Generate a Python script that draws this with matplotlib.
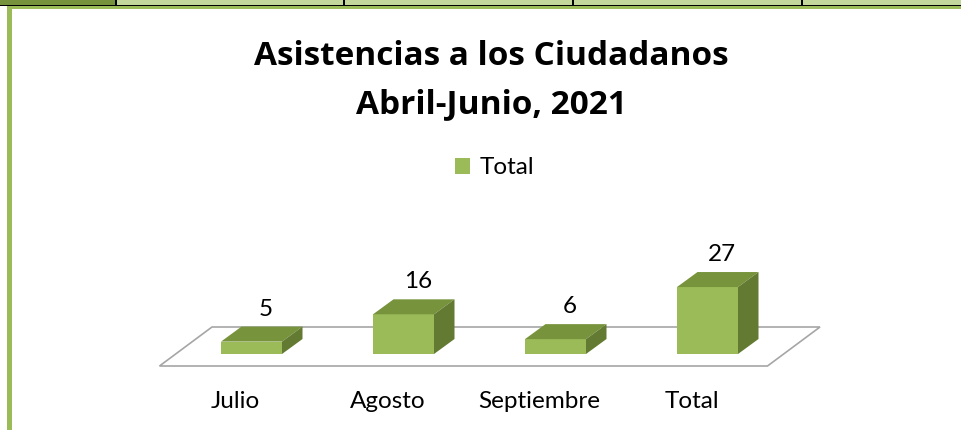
import matplotlib
matplotlib.use("Agg")
import matplotlib.pyplot as plt
from matplotlib.patches import Polygon, Rectangle, Patch
from matplotlib.transforms import Affine2D

# data
months = ["Julio", "Agosto", "Septiembre", "Total"]
totals = [5, 16, 6, 27]
series_name = "Total"
title_lines = ["Asistencias a los Ciudadanos", "Abril-Junio, 2021"]

plt.rcParams['font.family'] = ['Lato', 'DejaVu Sans']

W, H = 961, 430
fig = plt.figure(figsize=(W / 100, H / 100), dpi=100)
fig.patch.set_facecolor("white")

# pixel coords (y down) -> figure coords, for the page decorations
px = Affine2D().scale(1, -1).translate(0, H).scale(1 / W, 1 / H) + fig.transFigure

# table strip at the top of the page
fig.add_artist(Rectangle((0, 0), W, 5, transform=px, color="#c3d69b", lw=0))
fig.add_artist(Rectangle((0, 0), 115, 5, transform=px, color="#76923c", lw=0))
for xd in [115, 343, 572, 801]:
    fig.add_artist(Rectangle((xd, 0), 2, 5, transform=px, color="black", lw=0))
fig.add_artist(Rectangle((0, 5), W, 1, transform=px, color="black", lw=0))
# chart frame (green top and left edge)
fig.add_artist(Rectangle((7, 6), W - 7, 3, transform=px, color="#9bbb59", lw=0))
fig.add_artist(Rectangle((7, 6), 5, H - 6, transform=px, color="#9bbb59", lw=0))

# plot area: x in categories, y in values
ymax = 30
ax = fig.add_axes([175.5 / W, 76 / H, 608 / W, ymax * 2.48 / H])
ax.set_xlim(-0.5, len(months) - 0.5)
ax.set_ylim(0, ymax)
ax.axis("off")

# pixel -> data unit factors, used for the fake 3d depth
ux = len(months) / 608
uy = ymax / (ymax * 2.48)

bar_w = 61 / 152
bdx, bdy = 20.5 * ux, 15 * uy        # bar depth
fdx, fdy = 16 * ux, 12 * uy          # floor margin in front of/behind the bars

# floor
x0, x1 = -0.5, len(months) - 0.5
floor = [(x0 - fdx, -fdy), (x1 - fdx, -fdy),
         (x1 + bdx + fdx, bdy + fdy), (x0 + bdx + fdx, bdy + fdy)]
ax.add_patch(Polygon(floor, closed=True, facecolor="white", edgecolor="#a6a6a6",
                     lw=1.2, clip_on=False, zorder=1))

front_c, top_c, side_c = "#9bbb59", "#77933c", "#627a31"
for i, v in enumerate(totals):
    l, r = i - bar_w / 2, i + bar_w / 2
    ax.add_patch(Polygon([(l, 0), (r, 0), (r, v), (l, v)], closed=True,
                         facecolor=front_c, edgecolor="none", clip_on=False, zorder=3))
    ax.add_patch(Polygon([(l, v), (r, v), (r + bdx, v + bdy), (l + bdx, v + bdy)], closed=True,
                         facecolor=top_c, edgecolor="none", clip_on=False, zorder=3))
    ax.add_patch(Polygon([(r, 0), (r + bdx, bdy), (r + bdx, v + bdy), (r, v)], closed=True,
                         facecolor=side_c, edgecolor="none", clip_on=False, zorder=3))
    ax.text(i + bdx / 2 + 4 * ux, v + bdy + 7 * uy, str(v), ha="center", va="bottom",
            fontsize=17.5, color="black", clip_on=False)
    ax.text(i - fdx, -54 * uy, months[i], ha="center", va="baseline",
            fontsize=17.5, color="black", clip_on=False)

# title
for k, line in enumerate(title_lines):
    fig.text(491 / W, 1 - (65 + 48 * k) / H, line, ha="center", va="baseline",
             fontsize=24, fontweight="bold", family=["Open Sans", "DejaVu Sans"])

fig.legend(handles=[Patch(facecolor=front_c, edgecolor="none")], labels=[series_name],
           loc="center", bbox_to_anchor=(495 / W, 1 - 168 / H), frameon=False,
           fontsize=17.5, handlelength=0.62, handleheight=0.62, handletextpad=0.4)

fig.savefig("out.png", dpi=100)
